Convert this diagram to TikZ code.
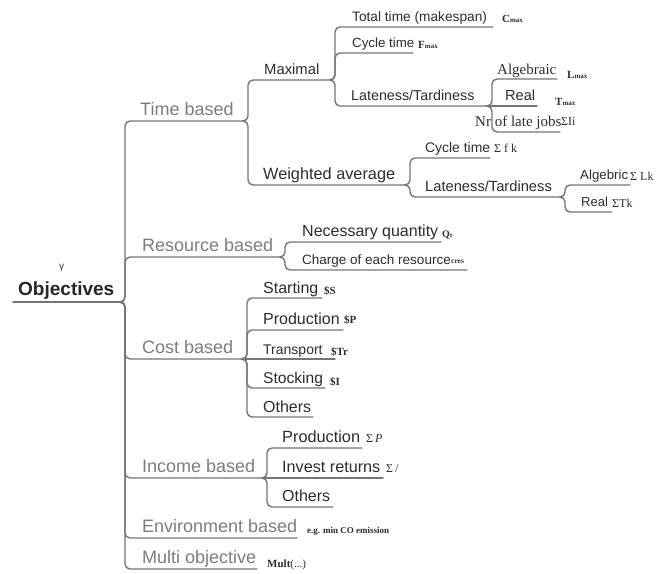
\documentclass[tikz,border=0pt]{standalone}
\usepackage{fontspec}
\setmainfont{Liberation Sans}
\newfontfamily\serf{Liberation Serif}
\definecolor{lc}{RGB}{118,118,118}
\definecolor{lonec}{RGB}{125,125,125}
\definecolor{ltwoc}{RGB}{45,45,45}
\tikzset{
  br/.style={draw=lc, line width=1.4pt, rounded corners=5pt, line cap=round},
  rootlbl/.style={anchor=base west, inner sep=0pt, text=black!85, font=\bfseries\fontsize{19}{19}\selectfont},
  lone/.style={anchor=base west, inner sep=0pt, text=lonec, font=\fontsize{18}{18}\selectfont},
  ltwo/.style={anchor=base west, inner sep=0pt, text=ltwoc, font=\fontsize{#1}{#1}\selectfont},
  ltwo/.default=15,
  lser/.style={anchor=base west, inner sep=0pt, text=ltwoc, font=\serf\fontsize{15}{15}\selectfont},
  ann/.style={anchor=base west, inner sep=0pt, text=ltwoc, font=\serf\bfseries\fontsize{#1}{#1}\selectfont},
  ann/.default=10,
  sig/.style={anchor=base west, inner sep=0pt, text=ltwoc, font=\serf\fontsize{12}{12}\selectfont},
}
\newcommand{\subsm}[1]{{\fontsize{7}{7}\selectfont #1}}
\begin{document}
\begin{tikzpicture}[x=1pt,y=-1pt]
\useasboundingbox (0,0) rectangle (672,573);
\fill[white] (0,0) rectangle (672,573);

% ---------- root ----------
\node[anchor=base west, inner sep=0pt, text=black!80, font=\fontsize{10}{10}\selectfont] (gam) at (59,269) {γ};
\node[rootlbl] (obj) at (18,295) {Objectives};
\coordinate (r0) at (13,302);
\coordinate (R) at (120,302);
\draw[br] (r0) -- (R);

% ---------- level 1 ----------
\node[lone] (tT) at (140,115) {Time based};          \coordinate (jT) at (243,121);
\node[lone] (tR) at (142,251) {Resource based};      \coordinate (jR) at (280,257);
\node[lone] (tC) at (142,353) {Cost based};          \coordinate (jC) at (242,359);
\node[lone] (tI) at (142,472) {Income based};        \coordinate (jI) at (262,478);
\node[lone] (tE) at (142,532) {Environment based};   \coordinate (jE) at (297,538);
\node[lone] (tM) at (142,563) {Multi objective};     \coordinate (jM) at (257,569);
\foreach \c in {jT,jR,jC,jI,jE,jM} \draw[br] (R) -- ++(5,0) |- (\c);

\node[ann=9] (envn) at (307,533) {e.g. min CO emission};
\node[anchor=base west, inner sep=0pt, text=ltwoc, font=\serf\fontsize{11}{11}\selectfont] (multn) at (267,567) {\textbf{Mult}(...)};

% ---------- time based ----------
\node[ltwo=14.8] (tMax) at (264,74) {Maximal};            \coordinate (jMx) at (330,80);
\node[ltwo=16.3] (tW) at (263,179) {Weighted average};    \coordinate (jW) at (405,185);
\draw[br] (jT) -- ++(5,0) |- (jMx);
\draw[br] (jT) -- ++(5,0) |- (jW);

% maximal
\node[ltwo=13.7] (tTot) at (352,21) {Total time (makespan)};  \coordinate (jTot) at (493,27);
\node[ltwo=13.3] (tCyc) at (352,47) {Cycle time};             \coordinate (jCyc) at (413,53);
\node[ltwo=14.3] (tLat) at (351,100) {Lateness/Tardiness};    \coordinate (jL) at (487,106);
\draw[br] (jMx) -- ++(5,0) |- (jTot);
\draw[br] (jMx) -- ++(5,0) |- (jCyc);
\draw[br] (jMx) -- ++(5,0) |- (jL);
\node[ann=11] (cmax) at (502,22) {C\subsm{max}};
\node[ann=11] (fmax) at (418,48) {F\subsm{max}};

% lateness (maximal)
\node[lser] (tAlg) at (497,74) {Algebraic};          \coordinate (jAlg) at (557,79);
\node[ltwo=14.6] (tReal) at (505,100) {Real};        \coordinate (jReal) at (537,106);
\node[lser] (tNr) at (475,126) {Nr of late jobs};    \coordinate (jNr) at (560,132);
\draw[br] (jL) -- ++(5,0) |- (jAlg);
\draw[br] (jL) -- (jReal);
\draw[br] (jL) -- ++(5,0) |- (jNr);
\node[ann=11] (lmax) at (567,78) {L\subsm{max}};
\node[ann=11] (tmax) at (555,105) {T\subsm{max}};
\node[sig] (sli) at (561,125) {ΣIi};

% weighted average
\node[ltwo=13.9] (tCyc2) at (425,152) {Cycle time};          \coordinate (jCyc2) at (490,158);
\node[ltwo=14.7] (tLat2) at (425,191) {Lateness/Tardiness};  \coordinate (jL2) at (560,197);
\draw[br] (jW) -- ++(5,0) |- (jCyc2);
\draw[br] (jW) -- ++(5,0) |- (jL2);
\node[sig] (sfk) at (494,152) {Σ f k};

\node[ltwo=13.3] (tAlg2) at (580,179) {Algebric};   \coordinate (jAlg2) at (630,185);
\node[ltwo=13] (tReal2) at (581,206) {Real};        \coordinate (jReal2) at (612,212);
\draw[br] (jL2) -- ++(5,0) |- (jAlg2);
\draw[br] (jL2) -- ++(5,0) |- (jReal2);
\node[sig] (slk) at (630,180) {Σ Lk};
\node[sig] (stk) at (612,207) {ΣTk};

% ---------- resource based ----------
\node[ltwo=16] (tNec) at (302,236) {Necessary quantity};       \coordinate (jNec) at (441,242);
\node[ltwo=13.5] (tCha) at (302,264) {Charge of each resource}; \coordinate (jCha) at (467,270);
\draw[br] (jR) -- ++(5,0) |- (jNec);
\draw[br] (jR) -- ++(5,0) |- (jCha);
\node[ann=10] (qr) at (442,237) {Q\subsm{r}};
\node[ann=7.5] (cres) at (451,263) {cres};

% ---------- cost based ----------
\node[ltwo=16] (tSta) at (263,293) {Starting};     \coordinate (jSta) at (322,298);
\node[ltwo=16] (tPro) at (263,324) {Production};   \coordinate (jPro) at (343,330);
\node[ltwo=14] (tTra) at (263,354) {Transport};    \coordinate (jTra) at (335,359);
\node[ltwo=15.6] (tSto) at (263,383) {Stocking};   \coordinate (jSto) at (325,388);
\node[ltwo=16] (tOth) at (263,412) {Others};       \coordinate (jOth) at (313,417);
\draw[br] (jC) -- ++(5,0) |- (jSta);
\draw[br] (jC) -- ++(5,0) |- (jPro);
\draw[br] (jC) -- (jTra);
\draw[br] (jC) -- ++(5,0) |- (jSto);
\draw[br] (jC) -- ++(5,0) |- (jOth);
\node[ann=11] (cS) at (324,294) {\$S};
\node[ann=11] (cP) at (344,323) {\$P};
\node[ann=11] (cT) at (331,355) {\$Tr};
\node[ann=11] (cI) at (330,385) {\$I};

% ---------- income based ----------
\node[ltwo=16.3] (tIP) at (282,442) {Production};     \coordinate (jIP) at (362,448);
\node[ltwo=16.2] (tInv) at (282,472) {Invest returns}; \coordinate (jInv) at (383,478);
\node[ltwo=16] (tIO) at (282,501) {Others};           \coordinate (jIO) at (333,507);
\draw[br] (jI) -- ++(5,0) |- (jIP);
\draw[br] (jI) -- (jInv);
\draw[br] (jI) -- ++(5,0) |- (jIO);
\node[sig] (sp) at (366,442) {Σ\,\textit{P}};
\node[sig] (si) at (386,472) {Σ\,/};

\end{tikzpicture}
\end{document}
